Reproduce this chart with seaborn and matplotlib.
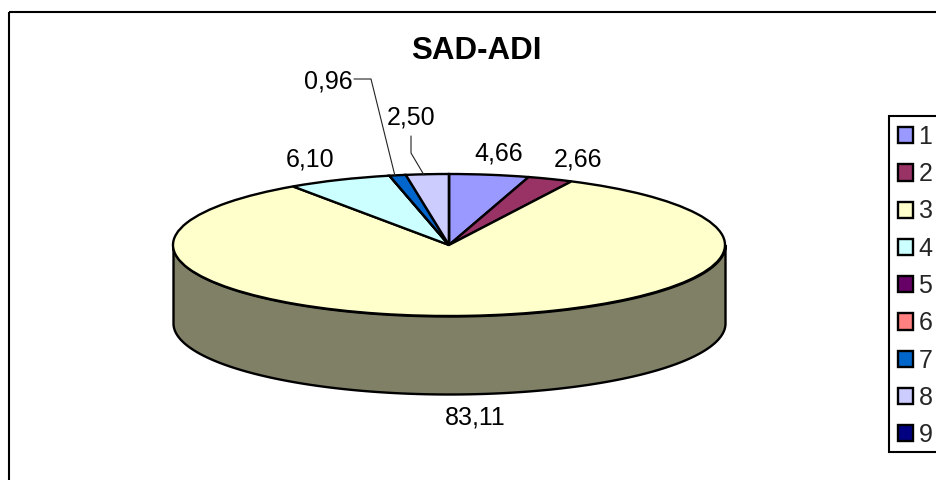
#!/usr/bin/env python3
# coding=utf-8
from matplotlib import pyplot as plt
from matplotlib.patches import Rectangle
import numpy as np
import seaborn as sns

categories = ['1', '2', '3', '4', '5', '6', '7', '8', '9']
values = [4.66, 2.66, 83.11, 6.10, 0, 0, 0.96, 2.50, 0]
value_labels = ['4,66', '2,66', '83,11', '6,10', '', '', '0,96', '2,50', '']
title = 'SAD-ADI'
colors = ['#9999FF', '#993366', '#FFFFCC', '#CCFFFF', '#660066',
          '#FF8080', '#0066CC', '#CCCCFF', '#000080']

side_color = '#808066'
label_pos = {0: (499, 153), 1: (578, 159), 2: (475, 418),
             3: (310, 159), 6: (328, 81), 7: (411, 117)}
leaders = [([354, 371, 395], [79, 79, 176]), ([411, 411, 424], [136, 153, 175])]

W, H = 936, 480
CX, CY, RX, RY, DEPTH = 449, 245, 276, 71, 78
LW = 1.7

sns.set_theme(style='white')
plt.rcParams['font.family'] = ['Liberation Sans', 'DejaVu Sans']

fig = plt.figure(figsize=(W / 100, H / 100), dpi=100, facecolor='white')

# overlay in pixel units, used for frame, texts and legend
over = fig.add_axes([0, 0, 1, 1], zorder=3)
over.set_xlim(0, W)
over.set_ylim(H, 0)
over.axis('off')
over.add_patch(Rectangle((9, 12), W, H, fill=False, ec='black', lw=1.5, clip_on=True))
over.add_patch(Rectangle((889, 116), W, 336, fc='white', ec='black', lw=1.5, clip_on=True))

# flattened pie: unit circle stretched to the ellipse
ax = fig.add_axes([(CX - RX) / W, (H - CY - RY) / H, 2 * RX / W, 2 * RY / H], zorder=2)
wedges, _ = ax.pie(values, colors=sns.color_palette(colors), startangle=90, counterclock=False,
                   radius=1, wedgeprops={'edgecolor': 'black', 'linewidth': LW, 'clip_on': False})
ax.set_aspect('auto')
ax.set_xlim(-1, 1)
ax.set_ylim(-1, 1)

t = np.linspace(np.pi, 2 * np.pi, 300)
depth = DEPTH / RY
ax.fill_between(np.cos(t), np.sin(t), np.sin(t) - depth, facecolor=side_color,
                edgecolor='black', linewidth=LW, clip_on=False, zorder=0)

over.text(476, 51, title, ha='center', va='center', fontsize=22.5, fontweight='bold', color='black')
for i, (x, y) in label_pos.items():
    over.text(x, y, value_labels[i], ha='center', va='center', fontsize=18, color='black')
for xs, ys in leaders:
    over.plot(xs, ys, color='#222222', lw=0.8)
over.set_xlim(0, W)
over.set_ylim(H, 0)

leg = over.legend(wedges, categories, loc='upper left', bbox_to_anchor=(897.5, 125),
                  bbox_transform=over.transData, frameon=False, fontsize=18,
                  handlelength=0.62, handleheight=0.62, handletextpad=0.22,
                  labelspacing=0.53, borderpad=0, borderaxespad=0)

fig.savefig('out.png', dpi=100)
